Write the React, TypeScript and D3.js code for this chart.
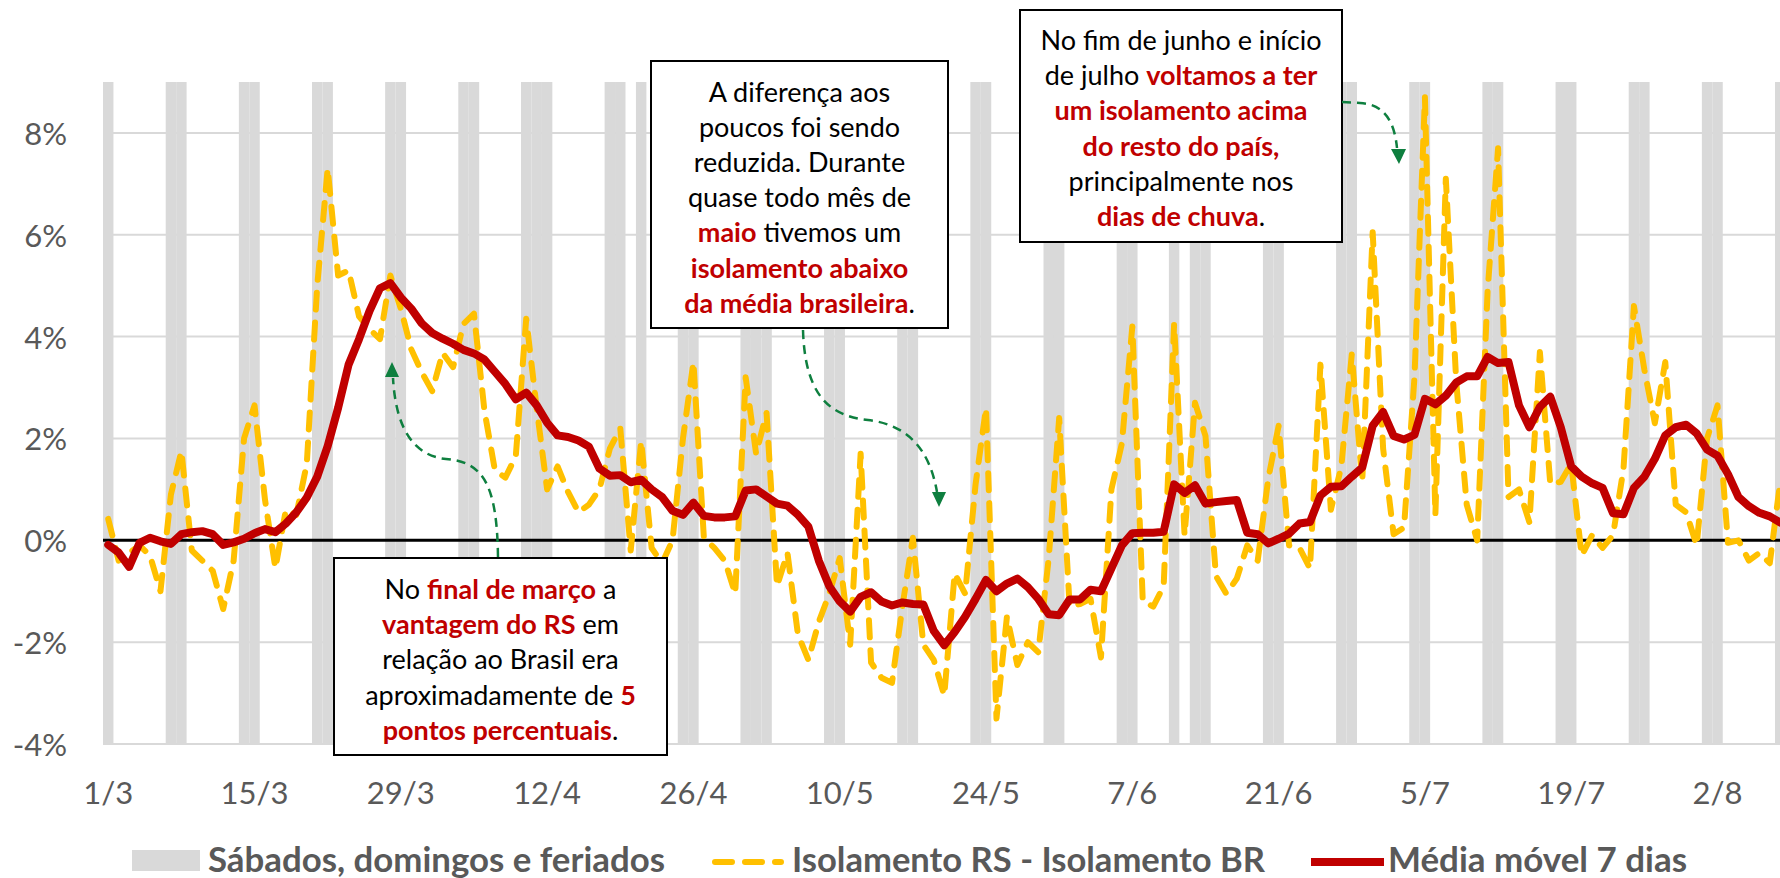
import React from 'react';
import * as d3 from 'd3';

// dias de 1/3/2020 a 8/8/2020 (eixo de categorias)
const dias = d3.timeDay.range(new Date(2020, 2, 1), new Date(2020, 7, 9));
const fmtDia = d3.timeFormat('%-d/%-m');
const categorias = dias.map(fmtDia);

// sábados, domingos e feriados
const fimDeSemana = [
  '1/3', '7/3', '8/3', '14/3', '15/3', '21/3', '22/3', '28/3', '29/3',
  '4/4', '5/4', '10/4', '11/4', '12/4', '18/4', '19/4', '21/4', '25/4', '26/4',
  '1/5', '2/5', '3/5', '9/5', '10/5', '16/5', '17/5', '23/5', '24/5', '30/5', '31/5',
  '6/6', '7/6', '11/6', '13/6', '14/6', '20/6', '21/6', '27/6', '28/6',
  '4/7', '5/7', '11/7', '12/7', '18/7', '19/7', '25/7', '26/7',
  '1/8', '2/8', '8/8',
];

// Isolamento RS - Isolamento BR (pontos percentuais)
const diferenca = [
  0.42, -0.4, -0.25, -0.1, -0.3, -1.0, 0.9, 1.75, -0.2, -0.4,
  -0.6, -1.35, -0.4, 2.0, 2.65, 0.8, -0.55, 0.6, 0.5, 1.5,
  5.0, 7.3, 5.2, 5.3, 4.4, 4.15, 3.95, 5.2, 4.55, 3.75,
  3.3, 2.93, 3.68, 3.4, 4.25, 4.45, 2.55, 1.38, 1.23, 1.65,
  4.35, 2.6, 1.0, 1.45, 0.95, 0.55, 0.7, 1.0, 1.8, 2.2,
  -0.2, 1.95, -0.15, -0.45, 0.0, 2.0, 3.5, 0.05, -0.15, -0.4,
  -1.05, 3.2, 1.7, 2.5, -0.9, -0.25, -1.85, -2.35, -1.6, -1.05,
  -0.35, -2.05, 1.7, -2.4, -2.7, -2.8, -1.3, 0.05, -2.05, -2.35,
  -3.05, -0.65, -1.05, 1.1, 2.6, -3.5, -1.5, -2.45, -2.0, -2.2,
  -0.35, 2.4, -1.3, -1.25, -1.15, -2.3, 1.0, 1.9, 4.2, -1.2,
  -1.3, -0.9, 4.25, 0.1, 2.7, 2.05, -0.7, -1.05, -0.75, -0.1,
  -0.4, 1.2, 2.25, -0.1, -0.15, -0.55, 3.45, 0.6, 1.45, 3.65,
  1.15, 6.05, 1.8, 0.12, 0.25, 3.2, 8.7, 0.5, 7.1, 3.1,
  0.7, 0.0, 4.9, 7.7, 0.85, 1.0, 0.35, 3.7, 1.1, 1.15,
  1.5, -0.3, 0.1, -0.15, 0.1, 1.4, 4.6, 3.35, 2.3, 3.5,
  0.7, 0.55, -0.1, 2.0, 2.65, -0.05, 0.0, -0.4, -0.25, -0.45,
  1.15,
];

// Média móvel 7 dias
const mediaMovel = [
  -0.09, -0.24, -0.52, -0.05, 0.05, -0.02, -0.07, 0.12, 0.16, 0.18,
  0.12, -0.09, -0.04, 0.03, 0.14, 0.22, 0.16, 0.33, 0.55, 0.84,
  1.25, 1.85, 2.6, 3.45, 3.95, 4.5, 4.95, 5.05, 4.77, 4.55,
  4.26, 4.07, 3.96, 3.86, 3.74, 3.67, 3.55, 3.31, 3.07, 2.77,
  2.9, 2.65, 2.31, 2.06, 2.03, 1.96, 1.84, 1.41, 1.27, 1.28,
  1.14, 1.19, 1.0, 0.85, 0.58, 0.5, 0.74, 0.48, 0.45, 0.45,
  0.47, 0.98, 1.0, 0.86, 0.72, 0.68, 0.5, 0.27, -0.4, -0.9,
  -1.2, -1.4, -1.11, -1.02, -1.2, -1.28, -1.22, -1.25, -1.26, -1.78,
  -2.06, -1.8, -1.5, -1.15, -0.78, -1.0, -0.85, -0.75, -0.92, -1.15,
  -1.45, -1.47, -1.16, -1.16, -0.97, -1.0, -0.55, -0.1, 0.14, 0.15,
  0.15, 0.17, 1.1, 0.93, 1.08, 0.72, 0.75, 0.77, 0.79, 0.15,
  0.12, -0.06, 0.03, 0.13, 0.33, 0.36, 0.88, 1.05, 1.06, 1.25,
  1.43, 2.25, 2.52, 2.05, 1.98, 2.07, 2.78, 2.67, 2.84, 3.1,
  3.22, 3.22, 3.6, 3.48, 3.5, 2.65, 2.22, 2.62, 2.82, 2.22,
  1.45, 1.25, 1.12, 1.03, 0.53, 0.51, 1.03, 1.25, 1.6, 2.06,
  2.22, 2.27, 2.1, 1.78, 1.66, 1.3, 0.85, 0.67, 0.54, 0.47,
  0.35,
];

const rotulosX = ['1/3', '15/3', '29/3', '12/4', '26/4', '10/5', '24/5', '7/6', '21/6', '5/7', '19/7', '2/8'];
const ticksY = [-4, -2, 0, 2, 4, 6, 8];

// caixas de texto: [texto, destaque?]
const caixaMarco = [
  [['No ', false], ['final de março', true], [' a', false]],
  [['vantagem do RS', true], [' em', false]],
  [['relação ao Brasil era', false]],
  [['aproximadamente de ', false], ['5', true]],
  [['pontos percentuais', true], ['.', false]],
];
const caixaMaio = [
  [['A diferença aos', false]],
  [['poucos foi sendo', false]],
  [['reduzida. Durante', false]],
  [['quase todo mês de', false]],
  [['maio', true], [' tivemos um', false]],
  [['isolamento abaixo', true]],
  [['da média brasileira', true], ['.', false]],
];
const caixaJulho = [
  [['No fim de junho e início', false]],
  [['de julho ', false], ['voltamos a ter', true]],
  [['um isolamento acima', true]],
  [['do resto do país,', true]],
  [['principalmente nos', false]],
  [['dias de chuva', true], ['.', false]],
];

const W = 1780;
const H = 878;
const FONTE = 'Lato, "Noto Sans", sans-serif';
const CINZA = '#595959';
const AMARELO = '#FFC000';
const VERMELHO = '#C00000';
const VERDE = '#0E7F3F';

function Caixa({ x, y, w, h, linhas, y0, passo }) {
  const cx = x + w / 2;
  return (
    <g>
      <rect x={x} y={y} width={w} height={h} fill="#fff" stroke="#000" strokeWidth={2} />
      {linhas.map((linha, i) => (
        <text key={i} x={cx} y={y0 + i * passo} textAnchor="middle" dominantBaseline="central"
          fontFamily={FONTE} fontSize={27}>
          {linha.map(([t, destaque], j) => (
            <tspan key={j} fill={destaque ? VERMELHO : '#000'} fontWeight={destaque ? 700 : 400}>{t}</tspan>
          ))}
        </text>
      ))}
    </g>
  );
}

export default function App() {
  const esq = 103;
  const passoDia = 10.45;
  const x = d3.scaleBand().domain(categorias).range([esq, esq + categorias.length * passoDia]).padding(0);
  const y = d3.scaleLinear().domain([-4, 9]).range([744, 82]);
  const meio = (c) => x(c) + x.bandwidth() / 2;

  const linha = d3.line().x((d, i) => meio(categorias[i])).y((d) => y(d));
  const fimDireita = W;

  return (
    <svg width={W} height={H} style={{ position: 'absolute', left: 0, top: 0, background: '#fff' }}>
      {/* grade */}
      {ticksY.filter((t) => t !== 0).map((t) => (
        <line key={t} x1={esq} x2={fimDireita} y1={y(t)} y2={y(t)} stroke="#d9d9d9" strokeWidth={2} />
      ))}
      {/* fins de semana e feriados */}
      {fimDeSemana.map((d) => (
        <rect key={d} x={x(d)} y={y(9)} width={x.bandwidth()} height={y(-4) - y(9)} fill="#d9d9d9" />
      ))}
      <line x1={esq} x2={fimDireita} y1={y(0)} y2={y(0)} stroke="#000" strokeWidth={3} />

      {/* rótulos dos eixos */}
      {ticksY.map((t) => (
        <text key={t} x={67} y={y(t)} textAnchor="end" dominantBaseline="central"
          fontFamily={FONTE} fontSize={31} fill={CINZA}>{`${t}%`}</text>
      ))}
      {rotulosX.map((c) => (
        <text key={c} x={meio(c)} y={804} textAnchor="middle" fontFamily={FONTE} fontSize={31} fill={CINZA}>{c}</text>
      ))}

      {/* séries */}
      <path d={linha(diferenca)} fill="none" stroke={AMARELO} strokeWidth={6}
        strokeDasharray="17 13" strokeLinecap="round" strokeLinejoin="round" />
      <path d={linha(mediaMovel)} fill="none" stroke={VERMELHO} strokeWidth={8}
        strokeLinejoin="round" strokeLinecap="round" />

      {/* anotações */}
      <Caixa x={334} y={558} w={333} h={197} linhas={caixaMarco} y0={588} passo={35.2} />
      <Caixa x={651} y={61} w={297} h={267} linhas={caixaMaio} y0={91} passo={35.1} />
      <Caixa x={1020} y={10} w={322} h={232} linhas={caixaJulho} y0={39} passo={35.2} />

      <g fill="none" stroke={VERDE} strokeWidth={2.5} strokeDasharray="9 6">
        <path d="M498 557 C497 482 482 462 446 459 C416 456 396 432 393 378" />
        <path d="M803 330 C805 396 830 416 868 420 C910 425 930 452 937 492" />
        <path d="M1342 102 L1360 103 C1380 104 1394 116 1397 148" />
      </g>
      <g fill={VERDE}>
        <polygon points="392,362 385,377 399,377" />
        <polygon points="939,507 932,492 946,492" />
        <polygon points="1399,164 1391,149 1406,149" />
      </g>

      {/* legenda */}
      <rect x={132} y={850} width={68} height={21} fill="#d9d9d9" />
      <text x={208} y={872} fontFamily={FONTE} fontSize={34} fontWeight={700} fill={CINZA}
        textLength={457} lengthAdjust="spacingAndGlyphs">Sábados, domingos e feriados</text>
      <line x1={715} x2={781} y1={862} y2={862} stroke={AMARELO} strokeWidth={6} strokeDasharray="17 13" strokeLinecap="round" />
      <text x={792} y={872} fontFamily={FONTE} fontSize={34} fontWeight={700} fill={CINZA}
        textLength={473} lengthAdjust="spacingAndGlyphs">Isolamento RS - Isolamento BR</text>
      <line x1={1311} x2={1384} y1={862} y2={862} stroke={VERMELHO} strokeWidth={8} />
      <text x={1388} y={872} fontFamily={FONTE} fontSize={34} fontWeight={700} fill={CINZA}
        textLength={299} lengthAdjust="spacingAndGlyphs">Média móvel 7 dias</text>
    </svg>
  );
}
